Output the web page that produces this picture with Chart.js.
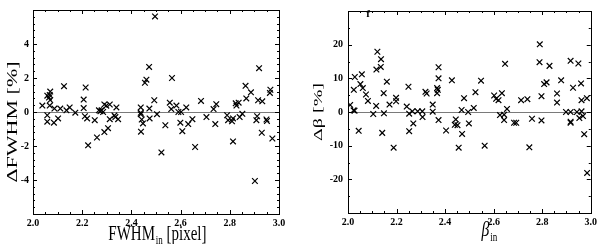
<!DOCTYPE html>
<html>
<head>
<meta charset="utf-8">
<script src="https://cdn.jsdelivr.net/npm/chart.js@4/dist/chart.umd.min.js"></script>
<style>
  html, body { margin: 0; padding: 0; background: #fff; }
  #wrap { position: relative; width: 600px; height: 244px; }
  canvas { position: absolute; top: 0; }
</style>
</head>
<body>
<div id="wrap">
  <canvas id="panelFwhm" width="300" height="244" style="left:0"></canvas>
  <canvas id="panelBeta" width="300" height="244" style="left:300px"></canvas>
</div>
<script>
// #region data

// left panel: input FWHM vs relative FWHM error
var fwhmIn = [2.038, 2.058, 2.058, 2.058, 2.065, 2.068, 2.070, 2.068, 2.070, 2.087, 2.085, 2.111, 2.102, 2.126, 2.136, 2.149, 2.172,
  2.206, 2.206, 2.214, 2.211, 2.220, 2.224, 2.251, 2.260, 2.268, 2.274, 2.279, 2.285, 2.290, 2.290, 2.298, 2.305, 2.312, 2.312,
  2.331, 2.335, 2.339, 2.346, 2.438, 2.438, 2.438, 2.439, 2.442, 2.447, 2.455, 2.461, 2.472, 2.473, 2.474, 2.493, 2.496, 2.504,
  2.522, 2.538, 2.556, 2.562, 2.565, 2.583, 2.591, 2.602, 2.599, 2.607, 2.623, 2.631, 2.648, 2.659, 2.683, 2.705, 2.734, 2.741,
  2.745, 2.789, 2.793, 2.809, 2.813, 2.813, 2.824, 2.827, 2.836, 2.840, 2.851, 2.864, 2.867, 2.886, 2.902, 2.908, 2.911, 2.915,
  2.919, 2.930, 2.932, 2.949, 2.951, 2.963, 2.965, 2.973];
var deltaFwhm = [0.38, 0.96, -0.19, -0.57, 0.85, 1.0, 1.2, 0.38, 0.7, 0.2, -0.63, 0.2, -0.38, 1.52, 0.1, 0.27, -0.04,
  0.73, 0.23, 1.44, -0.25, -0.38, -1.96, -0.48, -1.5, 0.1, 0.05, 0.1, 0.0, 0.44, -1.18, 0.37, -0.95, 0.44, -0.42,
  -0.2, -0.3, 0.27, -0.42, 0.27, -0.13, -0.05, -1.16, -0.44, -0.67, 1.72, 1.9, 2.65, 0.2, -0.38, 0.69, 5.62, -0.13,
  -2.38, -0.78, 0.55, 0.17, 2.0, 0.38, 0.0, 0.0, -0.63, -1.13, 0.27, -0.71, -0.42, -2.06, 0.65, -0.3, 0.17, -0.71,
  0.46, -0.19, -0.48, -0.55, -1.73, -0.38, 0.51, 0.38, 0.55, -0.3, -0.11, 1.54, 0.8, 1.16, -4.06, -0.48, -0.25, 0.69,
  2.58, -1.22, 0.63, -0.44, -0.53, 1.12, 1.31, -1.56];

// right panel: input beta vs relative beta error
var betaIn = [2.009, 2.023, 2.024, 2.028, 2.027, 2.044, 2.051, 2.057, 2.061, 2.074, 2.082, 2.104, 2.116, 2.121, 2.117, 2.136,
  2.135, 2.147, 2.141, 2.148, 2.160, 2.171, 2.188, 2.198, 2.198, 2.242, 2.249, 2.252, 2.252, 2.265, 2.269, 2.287, 2.306,
  2.307, 2.319, 2.324, 2.349, 2.349, 2.367, 2.367, 2.370, 2.373, 2.373, 2.373, 2.404, 2.428, 2.444, 2.440, 2.451, 2.456,
  2.468, 2.470, 2.478, 2.495, 2.498, 2.518, 2.525, 2.548, 2.563, 2.602, 2.610, 2.620, 2.626, 2.634, 2.643, 2.643, 2.647,
  2.655, 2.684, 2.693, 2.713, 2.739, 2.747, 2.758, 2.790, 2.789, 2.797, 2.797, 2.808, 2.818, 2.830, 2.861, 2.861, 2.878,
  2.898, 2.917, 2.917, 2.917, 2.917, 2.927, 2.943, 2.949, 2.953, 2.960, 2.962, 2.968, 2.962, 2.973, 2.984, 2.985];
var deltaBeta = [2.1, 0.5, 6.6, 10.4, 0.4, -5.6, 8.3, 11.2, 7.1, 5.2, 3.3, -0.6, 1.8, 17.9, 12.6, 15.7,
  13.4, 5.6, -6.2, -0.4, 9.0, 2.2, -10.6, 4.2, 3.2, 1.6, 7.5, -0.5, -5.7, 0.2, -3.4, 0.2, 0.2,
  -1.5, 6.0, 5.5, 2.2, 0.1, 7.1, 5.6, 6.6, 13.3, 10.0, -2.4, -5.5, 9.4, -2.2, -3.8, -3.9, -10.6,
  0.6, -6.5, 4.1, 0.0, -3.4, 1.2, 5.9, 9.3, -10.0, 4.9, 3.9, 3.5, -0.9, 5.6, -0.8, -2.4, 14.3,
  0.9, -3.2, -3.2, 3.5, 3.8, -10.5, -2.0, 20.1, 14.8, 4.7, -2.5, 8.3, 8.8, 13.7, 5.5, 2.8, 9.4,
  0.0, 0.0, -2.9, -3.2, 15.2, 7.2, 0.0, 14.4, -1.8, 8.5, 0.2, -1.2, 3.5, -6.6, 4.1, -18.1];

// tick labels
var xTickValues = [2.0, 2.2, 2.4, 2.6, 2.8, 3.0];
var fwhmTickValues = [-6, -4, -2, 0, 2, 4, 6];
var betaTickValues = [-30, -20, -10, 0, 10, 20, 30];

// #endregion data

// #region helpers

var SERIF = '"Liberation Serif", "DejaVu Serif", serif';

function toPoints(xs, ys) {
    return xs.map(function (x, i) { return { x: x, y: ys[i] }; });
}

// frame, inward ticks on all four sides, axis titles with subscripts
var framePlugin = {
    id: 'frame',
    afterDraw: function (chart) {
        var o = chart.options.plugins.frame;
        var ctx = chart.ctx;
        var a = chart.chartArea;
        var xs = chart.scales.x, ys = chart.scales.y;
        ctx.save();
        ctx.strokeStyle = '#000';
        ctx.lineWidth = 1;
        ctx.strokeRect(Math.round(a.left) + 0.5, Math.round(a.top) + 0.5,
            Math.round(a.right - a.left), Math.round(a.bottom - a.top));

        ctx.beginPath();
        var v, p, len;
        for (v = xs.min; v <= xs.max + 1e-9; v += o.xMinor) {
            p = Math.round(xs.getPixelForValue(v)) + 0.5;
            len = Math.abs(v / o.xMajor - Math.round(v / o.xMajor)) < 1e-6 ? 4 : 2;
            ctx.moveTo(p, a.bottom); ctx.lineTo(p, a.bottom - len);
            ctx.moveTo(p, a.top); ctx.lineTo(p, a.top + len);
        }
        for (v = ys.min; v <= ys.max + 1e-9; v += o.yMinor) {
            p = Math.round(ys.getPixelForValue(v)) + 0.5;
            len = Math.abs(v / o.yMajor - Math.round(v / o.yMajor)) < 1e-6 ? 4 : 2;
            ctx.moveTo(a.left, p); ctx.lineTo(a.left + len, p);
            ctx.moveTo(a.right, p); ctx.lineTo(a.right - len, p);
        }
        ctx.stroke();

        ctx.fillStyle = '#000';
        ctx.textBaseline = 'alphabetic';

        // x title: main + subscript + rest, squeezed horizontally like the original
        var t = o.xTitle;
        var mainFont = (t.style || '') + ' ' + t.size + 'px ' + SERIF;
        ctx.save();
        ctx.translate(t.cx, t.base);
        ctx.scale(0.75, 1);
        ctx.font = mainFont;
        var w1 = ctx.measureText(t.main).width;
        var w3 = ctx.measureText(t.rest).width;
        ctx.font = t.subSize + 'px ' + SERIF;
        var w2 = ctx.measureText(t.sub).width;
        var x0 = -(w1 + w2 + w3) / 2;
        ctx.font = mainFont;
        ctx.fillText(t.main, x0, 0);
        ctx.fillText(t.rest, x0 + w1 + w2 + 1, 0);
        ctx.font = t.subSize + 'px ' + SERIF;
        ctx.fillText(t.sub, x0 + w1 + 1, t.subDrop);
        ctx.restore();

        // y title, rotated
        var yt = o.yTitle;
        ctx.save();
        ctx.translate(yt.x, yt.cy);
        ctx.rotate(-Math.PI / 2);
        ctx.scale(1, 0.65);
        ctx.font = yt.size + 'px ' + SERIF;
        ctx.textAlign = 'center';
        ctx.fillText(yt.text, 0, 0);
        ctx.restore();

        if (o.tag) {
            ctx.font = 'bold 11px ' + SERIF;
            ctx.textAlign = 'center';
            ctx.fillText(o.tag.text, o.tag.x, o.tag.y);
        }
        ctx.restore();
    }
};

function criarPainel(id, xs, ys, cfg) {
    var tickFont = { family: SERIF, size: 10, weight: 'bold' };
    return new Chart(document.getElementById(id), {
        type: 'scatter',
        data: {
            datasets: [{
                data: toPoints(xs, ys),
                pointStyle: 'crossRot',
                pointRadius: 4,
                borderColor: '#000',
                backgroundColor: '#000',
                borderWidth: 1.2
            }]
        },
        options: {
            responsive: false,
            animation: false,
            devicePixelRatio: 1,
            layout: { padding: { top: 5, right: cfg.padRight, left: 0, bottom: 0 } },
            plugins: {
                legend: { display: false },
                tooltip: { enabled: false },
                frame: cfg.frame
            },
            scales: {
                x: {
                    type: 'linear', min: 2, max: 3,
                    afterBuildTicks: function (s) { s.ticks = xTickValues.map(function (v) { return { value: v }; }); },
                    afterFit: function (s) { s.height = cfg.xHeight; },
                    grid: { display: false, drawTicks: false },
                    border: { display: false },
                    ticks: {
                        font: tickFont, color: '#000', padding: 3, maxRotation: 0, autoSkip: false,
                        callback: function (v) { return v.toFixed(1); }
                    }
                },
                y: {
                    type: 'linear', min: cfg.yMin, max: cfg.yMax,
                    afterBuildTicks: function (s) { s.ticks = cfg.yTicks.map(function (v) { return { value: v }; }); },
                    afterFit: function (s) { s.width = cfg.yWidth; },
                    grid: {
                        drawTicks: false,
                        color: function (c) { return c.tick && c.tick.value === 0 ? '#7a7a7a' : 'rgba(0,0,0,0)'; },
                        lineWidth: 1
                    },
                    border: { display: false },
                    ticks: {
                        font: tickFont, color: '#000', padding: cfg.yPad, autoSkip: false,
                        callback: function (v) { return (v === cfg.yMin || v === cfg.yMax) ? '' : String(v); }
                    }
                }
            }
        },
        plugins: [framePlugin]
    });
}

// #endregion helpers

// #region init

criarPainel('panelFwhm', fwhmIn, deltaFwhm, {
    padRight: 21, xHeight: 30, yWidth: 33, yPad: 4,
    yMin: -6, yMax: 6, yTicks: fwhmTickValues,
    frame: {
        xMajor: 0.2, xMinor: 0.05, yMajor: 2, yMinor: 0.4,
        xTitle: { main: 'FWHM', sub: 'in', rest: ' [pixel]', size: 20, subSize: 12, subDrop: 4, cx: 157, base: 240 },
        yTitle: { text: '\u0394FWHM [%]', size: 22, x: 17, cy: 122 }
    }
});

criarPainel('panelBeta', betaIn, deltaBeta, {
    padRight: 4, xHeight: 31, yWidth: 48, yPad: 5,
    yMin: -30, yMax: 30, yTicks: betaTickValues,
    frame: {
        xMajor: 0.2, xMinor: 0.05, yMajor: 10, yMinor: 5,
        xTitle: { main: '\u03B2', sub: 'in', rest: '', style: 'italic', size: 21, subSize: 12, subDrop: 5, cx: 189, base: 236 },
        yTitle: { text: '\u0394\u03B2 [%]', size: 20, x: 22, cy: 112 },
        tag: { text: 'f', x: 68, y: 17 }
    }
});

// #endregion init
</script>
</body>
</html>
